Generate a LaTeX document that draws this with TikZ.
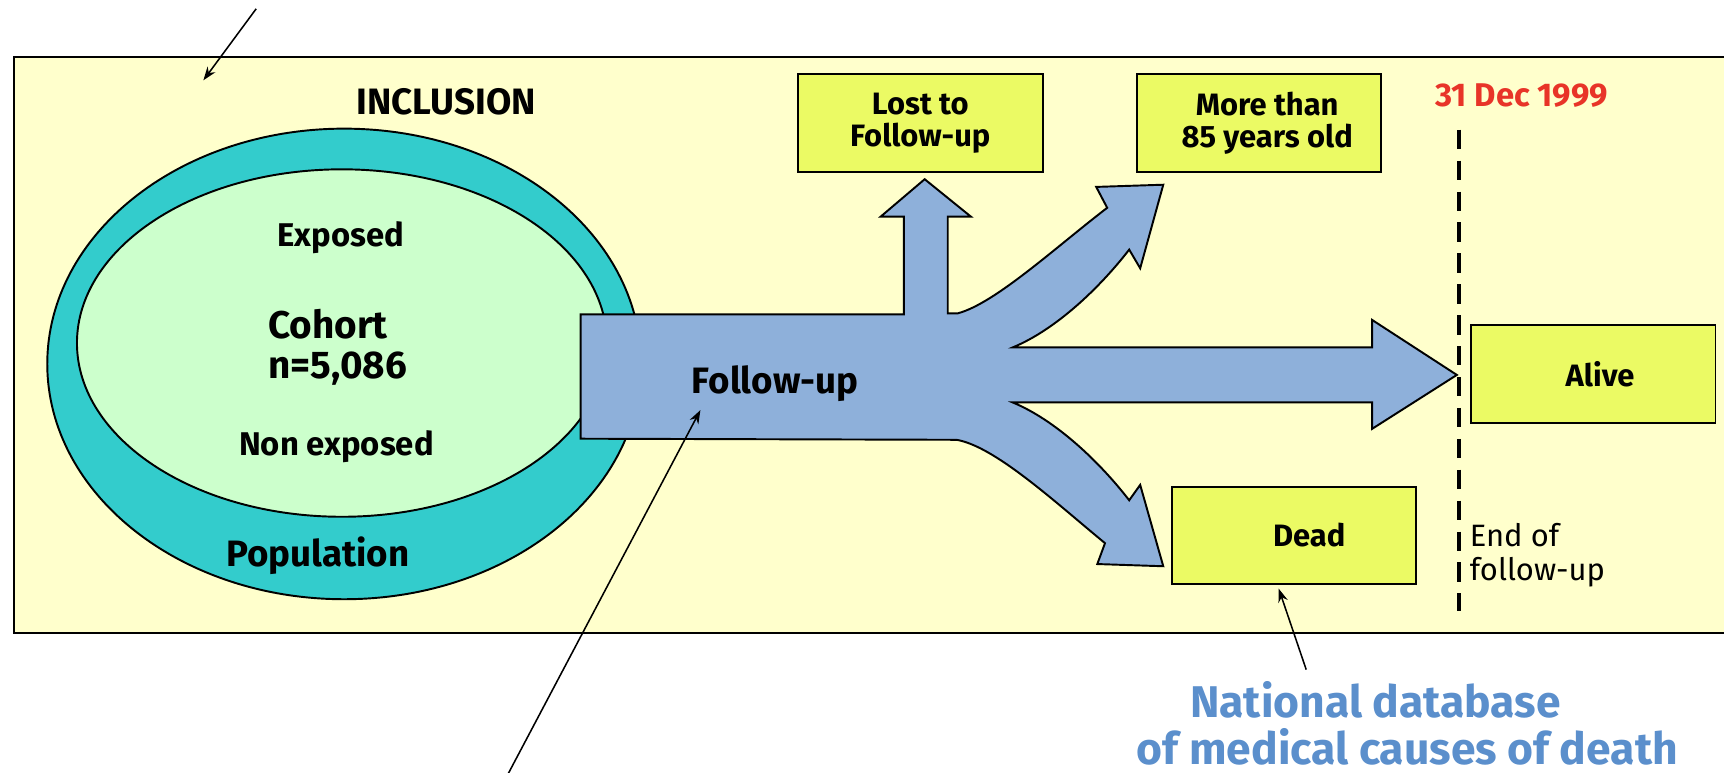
\documentclass[tikz,border=0pt]{standalone}
\usepackage{fontspec}
\setmainfont{Fira Sans}
\usetikzlibrary{arrows.meta,calc}
\definecolor{panelyel}{RGB}{255,255,204}
\definecolor{popteal}{RGB}{51,204,204}
\definecolor{cohgreen}{RGB}{204,255,204}
\definecolor{flowblue}{RGB}{142,176,218}
\definecolor{boxyel}{RGB}{235,250,100}
\definecolor{datered}{RGB}{232,52,40}
\definecolor{dbblue}{RGB}{91,143,204}
\newcommand{\fsz}[2]{\fontsize{#1}{#2}\selectfont}

\begin{document}
\begin{tikzpicture}[x=.02cm,y=-.02cm,>={Stealth[length=7pt,width=5pt]},
  box/.style={draw,line width=1pt,fill=boxyel,minimum width=4.45cm,minimum height=1.78cm,align=center,font=\bfseries\fsz{16}{17}},
  tag/.style={font=\bfseries\fsz{17}{20}},
  pointer/.style={->,line width=.8pt}]
\clip(0,0)rectangle(1568,703);
\fill[white](0,0)rectangle(1568,703);
\draw[line width=1.2pt,fill=panelyel](13,52)rectangle(1580,576);
% population and cohort
\draw[line width=1pt,fill=popteal](313,331)ellipse[x radius=270,y radius=214];
\draw[line width=1pt,fill=cohgreen](311,312)ellipse[x radius=241,y radius=158];
% follow-up flow
\draw[line width=1pt,fill=flowblue,line join=miter]
 (528,286)--(822,286)--(822,197)--(801,197)--(841,163)--(883,197)--(862,197)--(862,285)--(871,285)
 ..controls(905,276)and(960,225)..(1007,189)--(997,170)--(1058,168)--(1037,244)--(1027,227)
 ..controls(1000,262)and(960,300)..(921,316)--(1248,316)--(1248,291)--(1325,341)--(1248,390)--(1248,366)--(921,366)
 ..controls(960,382)and(1000,420)..(1027,455)--(1037,441)--(1058,515)--(998,513)--(1005,494)
 ..controls(960,457)and(905,406)..(870,400)--(528,399)--cycle;
\draw[line width=1.8pt,dash pattern=on 10pt off 6pt](1327,118)--(1327,556);

\node[font=\bfseries\fsz{19}{22}](incl)at(406,93){INCLUSION};
\node[tag](exp)at(310,216){Exposed};
\node[font=\bfseries\fsz{20}{21},align=left](coh)at(307,316){Cohort\\ n=5,086};
\node[tag](nonexp)at(306,406){Non exposed};
\node[font=\bfseries\fsz{19}{22}](pop)at(289,505){Population};
\node[font=\bfseries\fsz{19}{22}](fu)at(705,349){Follow-up};

\node[box](lost)at(837,112){Lost to\\Follow-up};
\node[box](old)at(1145,112){\hspace*{.3cm}More than\\\hspace*{.3cm}85 years old};
\node[box](alive)at(1449,340){\hspace*{.25cm}Alive};
\node[box](dead)at(1177,487){\hspace*{.55cm}Dead};

\node[font=\bfseries\fsz{17}{20},text=datered](date)at(1384,87){31 Dec 1999};
\node[anchor=west,align=left,inner sep=2pt,font=\fsz{16}{18}](eof)at(1333,505){End of\\follow-up};
\node[font=\bfseries\fsz{23}{24},text=dbblue,align=center](natdb)at(1280,658){National database\hspace*{1.16cm}\\of medical causes of death};

\coordinate(topsrc)at(233,8);
\coordinate(toptip)at(185,73);
\coordinate(fusrc)at(461,706);
\coordinate(futip)at(637,373);
\coordinate(dbsrc)at(1188,609);
\draw[pointer](topsrc)--(toptip);
\draw[pointer](fusrc)--(futip);
\draw[pointer](dbsrc)--($(dead.south)+(-14,3)$);
\end{tikzpicture}
\end{document}
